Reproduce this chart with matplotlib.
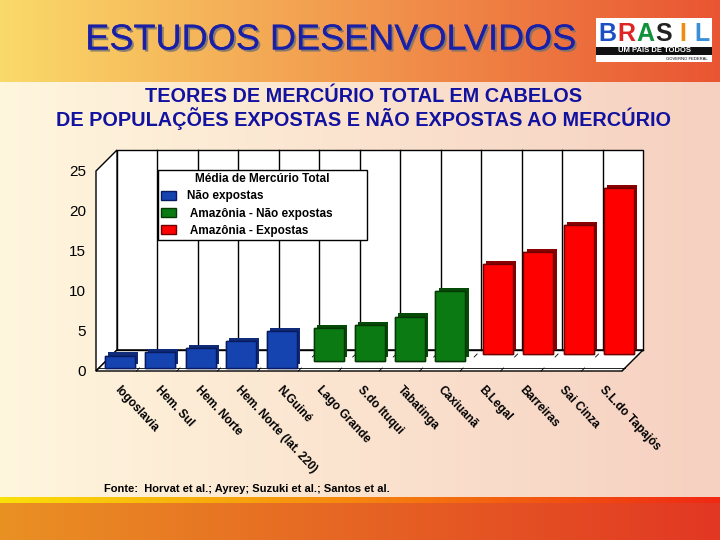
import matplotlib
matplotlib.use('Agg')
import matplotlib.pyplot as plt
import matplotlib.patheffects as pe
import numpy as np
from matplotlib.patches import Polygon, Rectangle

plt.rcParams['font.family'] = ['Liberation Sans', 'DejaVu Sans']

# dados
categorias = ['Iogoslavia', 'Hem. Sul', 'Hem. Norte', 'Hem. Norte (lat. 220)', 'N.Guiné',
              'Lago Grande', 'S.do Ituqui', 'Tabatinga', 'Caxiuanã',
              'B.Legal', 'Barreiras', 'Sai Cinza', 'S.L.do Tapajós']
nao_expostas = [1.5, 1.9, 2.4, 3.3, 4.6]
amaz_nao_expostas = [4.1, 4.4, 5.5, 8.7]
amaz_expostas = [11.2, 12.7, 16.1, 20.7]
series_nomes = ['Não expostas', ' Amazônia - Não expostas', ' Amazônia - Expostas']
yticks = [0, 5, 10, 15, 20, 25]

W, H = 720, 540
fig = plt.figure(figsize=(7.2, 5.4), dpi=100)

# fundo (gradientes)
bg = fig.add_axes([0, 0, 1, 1])
img = np.zeros((H, W, 3))
t = np.linspace(0, 1, W)[None, :, None]
def grad(c1, c2):
    c1 = np.array(c1)[None, None, :] / 255
    c2 = np.array(c2)[None, None, :] / 255
    return c1 * (1 - t) + c2 * t
img[:82] = grad((250, 218, 105), (233, 85, 50))
img[82:497] = grad((255, 246, 222), (246, 208, 192))
img[497:503] = grad((250, 225, 10), (240, 40, 20))
img[503:] = grad((234, 145, 35), (226, 55, 35))
bg.imshow(img, extent=[0, W, H, 0], aspect='auto', zorder=0)
bg.set_xlim(0, W)
bg.set_ylim(H, 0)
bg.axis('off')

# titulos
bg.text(331, 40, 'ESTUDOS DESENVOLVIDOS', ha='center', va='center', fontsize=26,
        color='#1a1fa8', path_effects=[pe.withSimplePatchShadow(offset=(1.5, -1.5), shadow_rgbFace='#707070', alpha=0.8), pe.Normal()])
bg.text(364, 97, 'TEORES DE MERCÚRIO TOTAL EM CABELOS', ha='center', va='center',
        fontsize=14.3, fontweight='bold', color='#1212a0')
bg.text(363, 119, 'DE POPULAÇÕES EXPOSTAS E NÃO EXPOSTAS AO MERCÚRIO', ha='center', va='center',
        fontsize=14.3, fontweight='bold', color='#1212a0')
bg.text(104, 489, 'Fonte:  Horvat et al.; Ayrey; Suzuki et al.; Santos et al.', ha='left', va='center',
        fontsize=8, fontweight='bold', color='black')

# logo
bg.add_patch(Rectangle((596, 18), 116, 44, facecolor='white', edgecolor='none', zorder=1))
for k, (ch, cor) in enumerate(zip('BRASIL', ['#1d4fc4', '#e02424', '#10913a', '#222222', '#f08a10', '#3a8fd8'])):
    bg.text(607 + k * 19, 34, ch, ha='center', va='center', fontsize=18, fontweight='bold', color=cor, zorder=2)
bg.add_patch(Rectangle((596, 47), 116, 8, facecolor='#111111', edgecolor='none', zorder=2))
bg.text(654, 51, 'UM PAÍS DE TODOS', ha='center', va='center', fontsize=5.5, fontweight='bold', color='white', zorder=3)
bg.text(708, 58.5, 'GOVERNO FEDERAL', ha='right', va='center', fontsize=3, color='black', zorder=3)

# area do grafico (plano frontal)
x0, y0, x1, y1 = 96, 171, 622, 371
ax = fig.add_axes([x0 / W, 1 - y1 / H, (x1 - x0) / W, (y1 - y0) / H])
ax.set_xlim(0, 13)
ax.set_ylim(0, 25)
ax.patch.set_alpha(0)
for s in ax.spines.values():
    s.set_visible(False)
sx = 13 / (x1 - x0)
sy = 25 / (y1 - y0)
D = 21
dx, dy = D * sx, D * sy

kw = dict(facecolor='white', edgecolor='black', lw=1, clip_on=False, zorder=1)
ax.add_patch(Polygon([(dx, dy), (13 + dx, dy), (13 + dx, 25 + dy), (dx, 25 + dy)], **kw))
ax.add_patch(Polygon([(0, 0), (dx, dy), (dx, 25 + dy), (0, 25)], **kw))
ax.add_patch(Polygon([(0, 0), (13, 0), (13 + dx, dy), (dx, dy)], **kw))
for k in range(1, 13):
    ax.plot([k + dx, k + dx], [dy, 25 + dy], color='black', lw=1, zorder=1, clip_on=False)
for k in range(0, 14):
    for d in (3, 17):
        ax.plot([k + (d - 3) * sx, k + d * sx], [(d - 3) * sy, d * sy], color='black', lw=0.6, zorder=1, clip_on=False)
ax.plot([dx, 13 + dx], [dy, dy], color='black', lw=1, zorder=1, clip_on=False)
ax.plot([3 * sx, 13 + 3 * sx], [3 * sy, 3 * sy], color='black', lw=0.6, zorder=1, clip_on=False)

grupos = [
    (amaz_expostas, 9, 17.5, '#ff0000', '#6e0000', '#8a0000'),
    (amaz_nao_expostas, 5, 10.5, '#0b7a12', '#053805', '#064a08'),
    (nao_expostas, 0, 3.5, '#1544b0', '#0a1a5e', '#102c78'),
]
handles = {}
for vals, start, d, cor, borda, lado in grupos:
    xs = np.arange(start, start + len(vals)) + 0.5 + d * sx
    b = ax.bar(xs, vals, bottom=d * sy, width=30 * sx, color=cor, edgecolor=borda, lw=1, zorder=3)
    for p in b.patches:
        p.set_clip_on(False)
        p.set_path_effects([pe.withSimplePatchShadow(offset=(2.3, 2.3), shadow_rgbFace=lado, alpha=1), pe.Normal()])
    handles[start] = Rectangle((0, 0), 1, 1, facecolor=cor, edgecolor=borda, lw=1)

ax.set_yticks(yticks)
ax.set_yticklabels([str(v) for v in yticks], fontsize=11)
ax.tick_params(axis='y', length=0, pad=7)
ax.set_xticks([])

for i, nome in enumerate(categorias):
    ax.text(i + 0.5 + 4.5 * sx, -13 * sy, nome, rotation=-47, rotation_mode='anchor',
            ha='left', va='top', fontsize=8.5, fontweight='bold', clip_on=False)

leg = fig.legend([handles[0], handles[5], handles[9]], series_nomes,
                 title='Média de Mercúrio Total', loc='upper left',
                 bbox_to_anchor=(158 / W, 1 - 243 / H, 209 / W, 73 / H), mode='expand',
                 prop={'size': 8.5, 'weight': 'bold'}, title_fontproperties={'size': 8.5, 'weight': 'bold'},
                 frameon=True, fancybox=False, edgecolor='black', framealpha=1, facecolor='white',
                 handlelength=1.3, handleheight=0.8, borderpad=0.25, labelspacing=0.45,
                 handletextpad=0.9, borderaxespad=0)
leg.get_frame().set_linewidth(1)
leg.set_zorder(5)

fig.savefig('out.png', dpi=100)
